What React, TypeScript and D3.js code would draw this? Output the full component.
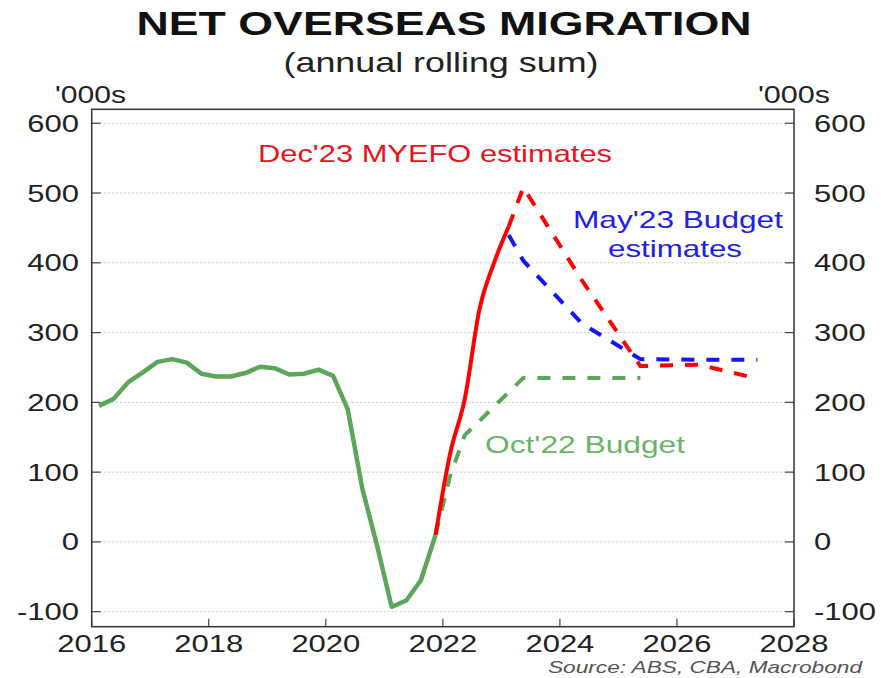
import React from "react";
import * as d3 from "d3";

// ---- data ----
const actualQuarters = [
  "2016Q1","2016Q2","2016Q3","2016Q4","2017Q1","2017Q2","2017Q3","2017Q4",
  "2018Q1","2018Q2","2018Q3","2018Q4","2019Q1","2019Q2","2019Q3","2019Q4",
  "2020Q1","2020Q2","2020Q3","2020Q4","2021Q1","2021Q2","2021Q3","2021Q4",
];
const actualValues = [195, 205, 229, 243, 258, 262, 257, 241, 237, 237, 242, 251, 249, 240, 241, 247, 238, 190, 76, -5, -93, -84, -55, 10];

const recentQuarters = ["2021Q4", "2022Q1", "2022Q2", "2022Q3", "2022Q4", "2023Q1"];
const recentValues = [10, 127, 205, 333, 400, 452];

const myefoQuarters = ["2023Q1", "2023Q2", "2024Q2", "2025Q2", "2026Q2", "2027Q2"];
const myefoValues = [452, 508, 375, 252, 254, 234];

const may23Quarters = ["2023Q1", "2023Q2", "2024Q2", "2025Q2", "2026Q2", "2027Q2"];
const may23Values = [440, 403, 313, 262, 261, 261];

const oct22Quarters = ["2021Q4", "2022Q1", "2022Q2", "2023Q2", "2024Q2", "2025Q2"];
const oct22Values = [10, 95, 153, 235, 235, 235];

const yTicks = [-100, 0, 100, 200, 300, 400, 500, 600];
const xTicks = [2016, 2018, 2020, 2022, 2024, 2026, 2028];

const title = "NET OVERSEAS MIGRATION";
const subtitle = "(annual rolling sum)";
const unitLabel = "'000s";
const source = "Source: ABS, CBA, Macrobond";

// ---- styling ----
const W = 884, H = 678;
const LEFT = 91.7, RIGHT = 794, TOP = 109.3, BOTTOM = 626.7;
const RED = "#ff0000";
const BLUE = "#1414ff";
const GREEN = "#5ca65a";
const FONT = "'Liberation Sans', Arial, Helvetica, sans-serif";
const SX = 1.29;

const parseQ = (s: string) => {
  const y = +s.slice(0, 4);
  const q = +s.slice(5);
  return y + (q - 0.5) * 0.25;
};

export default function App() {
  const x = d3.scaleLinear().domain([2016, 2028]).range([LEFT, RIGHT]);
  const y = d3.scaleLinear().domain([-121.5, 620]).range([BOTTOM, TOP]);

  const toPts = (qs: string[], vs: number[]) => qs.map((q, i) => [parseQ(q), vs[i]] as [number, number]);
  const lineSmooth = d3.line<[number, number]>().x(d => x(d[0])).y(d => y(d[1])).curve(d3.curveMonotoneX);
  const lineLin = d3.line<[number, number]>().x(d => x(d[0])).y(d => y(d[1]));

  const dash = "13 12";

  return (
    <svg width={W} height={H} style={{ position: "absolute", left: 0, top: 0, background: "#fff" }} fontFamily={FONT}>
      <rect width={W} height={H} fill="#fff" />
      {/* titles */}
      <text x={444} y={35} textAnchor="middle" fontSize={33} fontWeight="bold" fill="#111" textLength={615} lengthAdjust="spacingAndGlyphs">{title}</text>
      <text x={441} y={72} textAnchor="middle" fontSize={28} fill="#222" textLength={315} lengthAdjust="spacingAndGlyphs">{subtitle}</text>
      <text x={90.5} y={103} textAnchor="middle" fontSize={24} fill="#222" textLength={71} lengthAdjust="spacingAndGlyphs">{unitLabel}</text>
      <text x={794} y={103} textAnchor="middle" fontSize={24} fill="#222" textLength={72} lengthAdjust="spacingAndGlyphs">{unitLabel}</text>

      {/* gridlines */}
      {yTicks.map(t => (
        <line key={"g" + t} x1={LEFT} x2={RIGHT} y1={y(t)} y2={y(t)} stroke="#c8c8c8" strokeWidth={1} strokeDasharray="2 2" />
      ))}
      {/* y ticks and labels */}
      {yTicks.map(t => (
        <g key={"y" + t}>
          <line x1={LEFT} x2={LEFT + 9} y1={y(t)} y2={y(t)} stroke="#444" strokeWidth={1.2} />
          <line x1={RIGHT - 9} x2={RIGHT} y1={y(t)} y2={y(t)} stroke="#444" strokeWidth={1.2} />
          <text transform={`translate(79,${y(t) + 8.5}) scale(${SX},1)`} textAnchor="end" fontSize={24} fill="#222">{t}</text>
          <text transform={`translate(814,${y(t) + 8.5}) scale(${SX},1)`} textAnchor="start" fontSize={24} fill="#222">{t}</text>
        </g>
      ))}
      {/* x ticks */}
      {xTicks.map(t => (
        <g key={"x" + t}>
          <line x1={x(t)} x2={x(t)} y1={BOTTOM} y2={BOTTOM - 8} stroke="#444" strokeWidth={1.2} />
          <text transform={`translate(${x(t)},652) scale(${SX},1)`} textAnchor="middle" fontSize={24} fill="#222">{t}</text>
        </g>
      ))}

      {/* series */}
      <path d={lineLin(toPts(oct22Quarters, oct22Values)) || ""} fill="none" stroke={GREEN} strokeWidth={4} strokeDasharray={dash} />
      <path d={lineLin(toPts(may23Quarters, may23Values)) || ""} fill="none" stroke={BLUE} strokeWidth={4} strokeDasharray={dash} />
      <path d={lineLin(toPts(myefoQuarters, myefoValues)) || ""} fill="none" stroke={RED} strokeWidth={4} strokeDasharray={dash} />
      <path d={lineLin(toPts(actualQuarters, actualValues)) || ""} fill="none" stroke={GREEN} strokeWidth={4.5} strokeLinejoin="round" />
      <path d={lineSmooth(toPts(recentQuarters, recentValues)) || ""} fill="none" stroke={RED} strokeWidth={4} strokeLinejoin="round" />

      {/* frame */}
      <rect x={LEFT} y={TOP} width={RIGHT - LEFT} height={BOTTOM - TOP} fill="none" stroke="#333" strokeWidth={1.5} />

      {/* annotations */}
      <text x={435} y={161.7} textAnchor="middle" fontSize={24} fill="#e8141c" textLength={354} lengthAdjust="spacingAndGlyphs">Dec'23 MYEFO estimates</text>
      <text x={678} y={228} textAnchor="middle" fontSize={24} fill="#2020e6" textLength={210} lengthAdjust="spacingAndGlyphs">May'23 Budget</text>
      <text x={675} y={256.7} textAnchor="middle" fontSize={24} fill="#2020e6" textLength={134} lengthAdjust="spacingAndGlyphs">estimates</text>
      <text x={585} y={453.3} textAnchor="middle" fontSize={24} fill="#6ab468" textLength={200} lengthAdjust="spacingAndGlyphs">Oct'22 Budget</text>

      <text x={862} y={673} textAnchor="end" fontSize={17} fontStyle="italic" fill="#555" textLength={314} lengthAdjust="spacingAndGlyphs">{source}</text>
    </svg>
  );
}
